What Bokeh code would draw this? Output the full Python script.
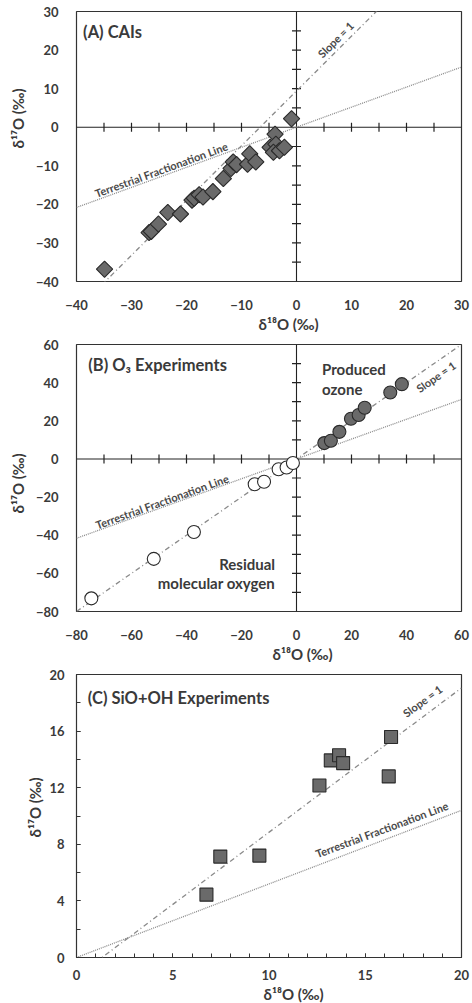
import numpy as np
from bokeh.plotting import figure
from bokeh.layouts import column
from bokeh.models import FixedTicker, Label, Span, Title
from bokeh.embed import file_html
from bokeh.resources import INLINE

# ---------------- data ----------------
# (A) CAIs
cai_d18 = [-34.9, -26.8, -26.4, -25.1, -23.4, -21.1, -19.0, -18.6, -17.7, -17.0,
           -15.2, -13.3, -11.9, -11.5, -10.9, -8.9, -8.5, -7.4, -4.8, -3.9,
           -3.75, -4.2, -3.1, -2.2, -0.9]
cai_d17 = [-36.8, -27.3, -27.0, -25.1, -22.1, -22.5, -18.9, -18.4, -17.5, -18.1,
           -16.7, -13.3, -10.7, -9.0, -9.7, -9.6, -6.9, -9.0, -5.2, -1.8,
           -4.4, -6.5, -6.1, -5.2, 2.2]
# (B) O3 experiments
ozone_d18 = [10.1, 12.5, 15.6, 19.8, 22.6, 24.8, 34.1, 38.3]
ozone_d17 = [8.3, 9.5, 14.2, 21.1, 23.0, 26.8, 34.8, 39.2]
o2_d18 = [-74.6, -51.9, -37.3, -15.2, -11.8, -6.5, -3.6, -1.3]
o2_d17 = [-73.1, -52.4, -38.3, -13.3, -12.0, -5.4, -4.5, -2.1]
# (C) SiO+OH experiments
sio_d18 = [6.75, 7.47, 9.5, 12.62, 13.21, 13.64, 13.85, 16.34, 16.22]
sio_d17 = [4.44, 7.13, 7.2, 12.16, 13.93, 14.29, 13.74, 15.58, 12.8]

# reference lines (slope, intercept)
tfl_slope = 0.52
slope1_A = (1.42, 9.4)
slope1_B = (1.0, 0.0)
slope1_C = (1.02, -1.35)

# axis ticks
ticks_A = [-40, -30, -20, -10, 0, 10, 20, 30]
cross_ticks_A = [-35, -30, -25, -20, -15, -10, -5, 5, 10, 15, 20, 25]
ticks_B = [-80, -60, -40, -20, 0, 20, 40, 60]
cross_ticks_B = [-70, -60, -50, -40, -30, -20, -10, 10, 20, 30, 40, 50]
ticks_Cx = [0, 5, 10, 15, 20]
minor_Cx = list(range(0, 21))
ticks_Cy = [0, 4, 8, 12, 16, 20]
minor_Cy = list(range(0, 21, 2))

X_LABEL = "δ¹⁸O (‰)"
Y_LABEL = "δ¹⁷O (‰)"
FONT = "Lato"
TXT = "#3a3a3a"
LINE_TXT = "#4a4a4a"
FILL = "#6a6a6a"
EDGE = "#2a2a2a"
AXC = "#222222"


def text(p, x, y, t, size, angle=0.0, align="left", color=TXT):
    p.add_layout(Label(x=x, y=y, text=t, text_font=FONT, text_font_style="bold",
                       text_font_size=size, text_color=color, angle=angle,
                       text_align=align, text_baseline="middle"))


def base_fig(h, xr, yr, bl, br, bt, bb, xt, yt):
    p = figure(width=472, height=h, x_range=xr, y_range=yr,
               min_border_left=bl, min_border_right=br,
               min_border_top=bt, min_border_bottom=bb,
               toolbar_location=None, output_backend="svg")
    p.grid.visible = False
    p.outline_line_color = "#333333"
    p.outline_line_width = 1.2
    p.xaxis.ticker = FixedTicker(ticks=xt)
    p.yaxis.ticker = FixedTicker(ticks=yt)
    for ax in (p.xaxis[0], p.yaxis[0]):
        ax.axis_line_color = None
        ax.major_tick_line_color = None
        ax.minor_tick_line_color = None
        ax.major_label_text_font = FONT
        ax.major_label_text_font_style = "bold"
        ax.major_label_text_font_size = "13px"
        ax.major_label_text_color = TXT
        ax.major_label_standoff = 12
    return p


def axis_titles(p, x_off, y_off, y_standoff):
    p.add_layout(Title(text=X_LABEL, align="left", offset=x_off, standoff=0,
                       text_font=FONT, text_font_style="bold",
                       text_font_size="15px", text_color=TXT), "below")
    p.add_layout(Title(text=Y_LABEL, align="left", offset=y_off,
                       standoff=y_standoff, vertical_align="bottom",
                       text_font=FONT, text_font_style="bold",
                       text_font_size="15px", text_color=TXT), "left")


def cross_axes(p, xt, yt):
    p.add_layout(Span(location=0, dimension="width", line_color=AXC,
                      line_width=1.1, level="underlay"))
    p.add_layout(Span(location=0, dimension="height", line_color=AXC,
                      line_width=1.1, level="underlay"))
    xt = np.asarray(xt, dtype=float)
    yt = np.asarray(yt, dtype=float)
    p.scatter(xt, np.zeros_like(xt), marker="dash", angle=np.pi / 2, size=9,
              line_color=AXC, line_width=1.2)
    p.scatter(np.zeros_like(yt), yt, marker="dash", size=9,
              line_color=AXC, line_width=1.2)


def ref_lines(p, x0, x1, s1):
    xs = np.array([x0, x1], dtype=float)
    p.line(xs, tfl_slope * xs, line_color="#8a8a8a", line_width=1.3,
           line_dash="1 1")
    p.line(xs, s1[0] * xs + s1[1], line_color="#8a8a8a", line_width=1.3,
           line_dash="5 3 1 3")


# ---------------- panel A ----------------
pa = base_fig(332, (-40, 30), (-40, 30), 71, 9, 11, 48, ticks_A, ticks_A)
axis_titles(pa, 182, 133, 12)
cross_axes(pa, cross_ticks_A, cross_ticks_A)
ref_lines(pa, -40, 30, slope1_A)
pa.scatter(cai_d18, cai_d17, marker="square", size=11.5, angle=np.pi / 4,
           fill_color=FILL, line_color=EDGE, line_width=1.1)
text(pa, -38.8, 24.6, "(A) CAIs", "16.5px")
text(pa, -24.6, -11.0, "Terrestrial Fractionation Line", "11px",
     angle=np.deg2rad(20.0), align="center", color=LINE_TXT)
text(pa, 7.1, 22.7, "Slope = 1", "11px", angle=np.deg2rad(45.0),
     align="center", color=LINE_TXT)

# ---------------- panel B ----------------
pb = base_fig(330, (-80, 60), (-80, 60), 72, 9, 12, 47, ticks_B, ticks_B)
axis_titles(pb, 196, 98, 12)
cross_axes(pb, cross_ticks_B, cross_ticks_B)
ref_lines(pb, -80, 60, slope1_B)
pb.scatter(o2_d18, o2_d17, marker="circle", size=13,
           fill_color="white", line_color=EDGE, line_width=1.1)
pb.scatter(ozone_d18, ozone_d17, marker="circle", size=13,
           fill_color=FILL, line_color=EDGE, line_width=1.1)
text(pb, -75.7, 49.2, "(B) O₃ Experiments", "16.5px")
text(pb, 9.3, 46.9, "Produced", "15px")
text(pb, 9.3, 36.6, "ozone", "15px")
text(pb, -7.8, -55.0, "Residual", "15px", align="right")
text(pb, -7.8, -65.3, "molecular oxygen", "15px", align="right")
text(pb, -48.9, -22.3, "Terrestrial Fractionation Line", "11px",
     angle=np.deg2rad(19.8), align="center", color=LINE_TXT)
text(pb, 50.7, 43.1, "Slope = 1", "11px", angle=np.deg2rad(34.7),
     align="center", color=LINE_TXT)

# ---------------- panel C ----------------
pc = base_fig(341, (0, 20), (0, 20), 56, 11, 12, 46, ticks_Cx, ticks_Cy)
axis_titles(pc, 187, 120, 6)
pc.xaxis.ticker = FixedTicker(ticks=ticks_Cx, minor_ticks=minor_Cx)
pc.yaxis.ticker = FixedTicker(ticks=ticks_Cy, minor_ticks=minor_Cy)
for ax in (pc.xaxis[0], pc.yaxis[0]):
    ax.major_tick_line_color = "#333333"
    ax.minor_tick_line_color = "#333333"
    ax.major_tick_in = 4
    ax.major_tick_out = 0
    ax.minor_tick_in = 4
    ax.minor_tick_out = 0
ref_lines(pc, 0, 20, slope1_C)
pc.scatter(sio_d18, sio_d17, marker="square", size=13,
           fill_color=FILL, line_color=EDGE, line_width=1.1)
text(pc, 0.59, 18.37, "(C) SiO+OH Experiments", "16.5px")
text(pc, 15.86, 9.04, "Terrestrial Fractionation Line", "11px",
     angle=np.deg2rad(20.4), align="center", color=LINE_TXT)
text(pc, 17.97, 18.13, "Slope = 1", "11px", angle=np.deg2rad(36.1),
     align="center", color=LINE_TXT)

layout = column(pa, pb, pc, spacing=0)
open("out.html", "w").write(file_html(layout, INLINE))
